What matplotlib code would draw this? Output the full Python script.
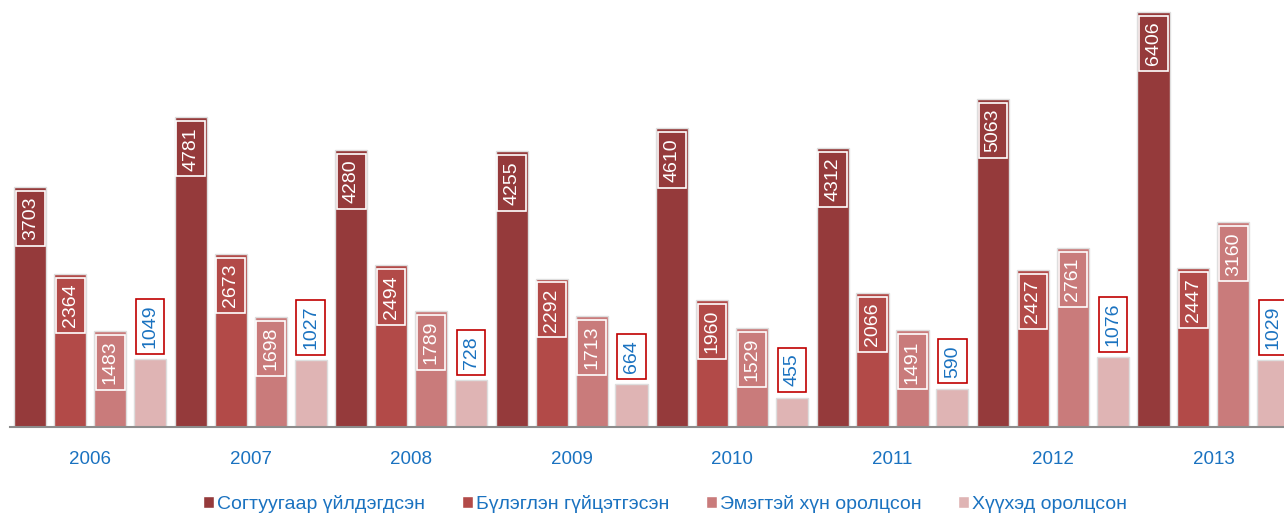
import matplotlib.pyplot as plt
import numpy as np
from matplotlib.patches import Patch

plt.rcParams['font.family'] = ['Liberation Sans', 'DejaVu Sans']

years = ['2006', '2007', '2008', '2009', '2010', '2011', '2012', '2013']
series_names = ['Согтуугаар үйлдэгдсэн', 'Бүлэглэн гүйцэтгэсэн',
                'Эмэгтэй хүн оролцсон', 'Хүүхэд оролцсон']
drunk = [3703, 4781, 4280, 4255, 4610, 4312, 5063, 6406]
group = [2364, 2673, 2494, 2292, 1960, 2066, 2427, 2447]
women = [1483, 1698, 1789, 1713, 1529, 1491, 2761, 3160]
children = [1049, 1027, 728, 664, 455, 590, 1076, 1029]

colors = ['#953a3b', '#b24a48', '#c97b7b', '#dfb4b4']
blue = '#1a72c0'


def main():
    fig = plt.figure(figsize=(12.84, 5.13), dpi=100)
    ax = fig.add_axes([10 / 1284, 86 / 513, 1 - 10 / 1284, 427 / 513])

    x = np.arange(len(years))
    w = 0.2
    step = 0.249
    data = [drunk, group, women, children]
    for k, vals in enumerate(data):
        pos = x + (k - 1.5) * step
        bars = ax.bar(pos, vals, width=w, color=colors[k],
                      edgecolor='#dedede', linewidth=1.0, zorder=2)
        for b, v in zip(bars, vals):
            cx = b.get_x() + b.get_width() / 2
            if k < 3:
                ax.annotate(str(v), (cx, v), xytext=(0, -7), textcoords='offset points',
                            rotation=90, ha='center', va='top', fontsize=14,
                            color='white', zorder=4,
                            bbox=dict(boxstyle='square,pad=0.3', fc='none',
                                      ec='white', lw=1.2))
            else:
                ax.annotate(str(v), (cx, v), xytext=(0, 8), textcoords='offset points',
                            rotation=90, ha='center', va='bottom', fontsize=14,
                            color=blue, zorder=4,
                            bbox=dict(boxstyle='square,pad=0.3', fc='white',
                                      ec='#c00000', lw=1.2))

    ax.set_xlim(-0.5, 7.44)
    ax.set_ylim(0, 6591)
    for s in ['top', 'right', 'left']:
        ax.spines[s].set_visible(False)
    ax.spines['bottom'].set_color('#8c8c8c')
    ax.spines['bottom'].set_linewidth(1.5)
    ax.set_yticks([])
    ax.set_xticks(x)
    ax.set_xticklabels(years, color=blue, fontsize=13.5)
    ax.tick_params(axis='x', length=0, pad=17)

    handles = [Patch(facecolor=c, edgecolor='white') for c in colors]
    fig.legend(handles, series_names, loc='lower center', ncol=4,
               bbox_to_anchor=(0.518, -0.034), frameon=False, fontsize=14,
               labelcolor=blue, handlelength=0.55, handleheight=0.55,
               handletextpad=0.15, columnspacing=1.9)

    plt.savefig('out.png', dpi=100)


main()
